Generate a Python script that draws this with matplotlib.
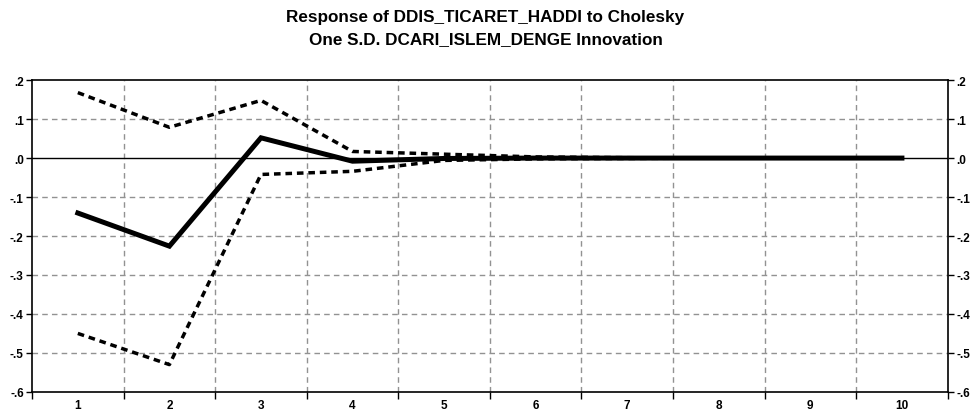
import matplotlib
matplotlib.use("Agg")
import matplotlib.pyplot as plt
from matplotlib.ticker import FixedLocator, NullFormatter

plt.rcParams["font.family"] = ["Liberation Sans", "DejaVu Sans"]

periods = [1, 2, 3, 4, 5, 6, 7, 8, 9, 10]
response = [-0.141, -0.226, 0.052, -0.008, -0.001, 0.0, 0.0, 0.0, 0.0, 0.0]
upper = [0.168, 0.079, 0.148, 0.017, 0.010, 0.003, 0.001, 0.0, 0.0, 0.0]
lower = [-0.450, -0.530, -0.042, -0.034, -0.006, -0.002, -0.001, 0.0, 0.0, 0.0]

y_ticks = [-0.6, -0.5, -0.4, -0.3, -0.2, -0.1, 0.0, 0.1, 0.2]
y_labels = ["-.6", "-.5", "-.4", "-.3", "-.2", "-.1", ".0", ".1", ".2"]

fig = plt.figure(figsize=(9.71, 4.14), dpi=100)
ax = fig.add_axes([0.033, 0.051, 0.943, 0.753])

# grid
for yv in y_ticks[1:-1]:
    if yv != 0.0:
        ax.axhline(yv, color="#929292", lw=1.0, ls=(0, (4, 3)), zorder=1)
for xv in range(1, 10):
    ax.axvline(xv + 0.5, color="#929292", lw=1.0, ls=(0, (4, 3)), zorder=1)
ax.axhline(0.0, color="black", lw=1.0, zorder=2)

ax.plot(periods, upper, color="black", lw=2.5, ls=(0, (1.9, 1.4)), zorder=3)
ax.plot(periods, lower, color="black", lw=2.5, ls=(0, (1.9, 1.4)), zorder=3)
ax.plot(periods, response, color="black", lw=3.6, solid_joinstyle="miter", zorder=4)

ax.set_xlim(0.5, 10.5)
ax.set_ylim(-0.6, 0.2)

ax.xaxis.set_major_locator(FixedLocator([x + 0.5 for x in range(0, 11)]))
ax.xaxis.set_major_formatter(NullFormatter())
ax.xaxis.set_minor_locator(FixedLocator(periods))
ax.set_xticklabels([str(p) for p in periods], minor=True)
ax.tick_params(axis="x", which="major", direction="out", length=5, width=1)
ax.tick_params(axis="x", which="minor", length=0, pad=5, labelsize=8.5)

ax.set_yticks(y_ticks)
ax.set_yticklabels(y_labels)
ax.tick_params(axis="y", direction="out", length=4, width=1, labelsize=8.5,
               right=True, labelright=True, pad=2)
for lbl in ax.get_xticklabels(minor=True):
    lbl.set_fontweight("bold")
for t in ax.yaxis.get_major_ticks():
    t.label1.set_fontweight("bold")
    t.label2.set_fontweight("bold")

for s in ax.spines.values():
    s.set_linewidth(1.2)

fig.text(0.5, 0.975, "Response of DDIS_TICARET_HADDI to Cholesky\nOne S.D. DCARI_ISLEM_DENGE Innovation",
         ha="center", va="top", fontsize=12.3, fontweight="bold", linespacing=1.6)

fig.savefig("out.png", dpi=100)
